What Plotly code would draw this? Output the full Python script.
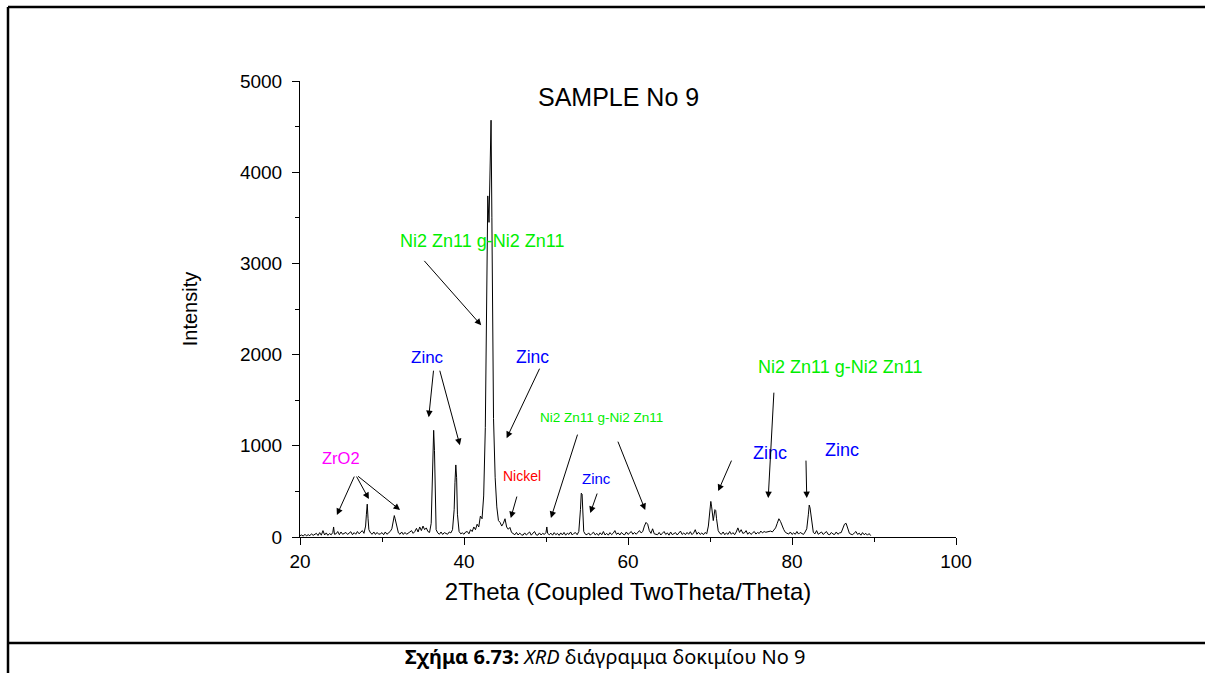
import plotly.graph_objects as go

# XRD scan of sample No 9: 2-theta (deg) and measured intensity (counts)
two_theta = [
    20.0, 20.2, 20.4, 20.6, 20.8, 21.0, 21.2, 21.4, 21.6, 21.8,
    22.0, 22.2, 22.4, 22.6, 22.8, 23.0, 23.2, 23.4, 23.6, 23.8,
    24.0, 24.1, 24.2, 24.4, 24.6, 24.8, 25.0, 25.2, 25.4, 25.6,
    25.8, 26.0, 26.2, 26.4, 26.6, 26.8, 27.0, 27.2, 27.4, 27.6,
    27.8, 28.0, 28.1, 28.2, 28.3, 28.4, 28.6, 28.8, 29.0, 29.2,
    29.4, 29.6, 29.8, 30.0, 30.2, 30.4, 30.6, 30.8, 31.0, 31.2,
    31.4, 31.5, 31.6, 31.8, 32.0, 32.2, 32.4, 32.6, 32.8, 33.0,
    33.2, 33.4, 33.6, 33.8, 34.0, 34.2, 34.4, 34.6, 34.8, 35.0,
    35.2, 35.4, 35.6, 35.8, 36.0, 36.1, 36.2, 36.3, 36.4, 36.5,
    36.6, 36.8, 37.0, 37.2, 37.4, 37.6, 37.8, 38.0, 38.2, 38.4,
    38.6, 38.8, 38.9, 39.0, 39.1, 39.2, 39.4, 39.6, 39.8, 40.0,
    40.2, 40.4, 40.6, 40.8, 41.0, 41.2, 41.4, 41.6, 41.8, 42.0,
    42.2, 42.4, 42.6, 42.75, 42.9, 43.05, 43.15, 43.3, 43.4, 43.5,
    43.6, 43.8, 44.0, 44.2, 44.4, 44.6, 44.8, 45.0, 45.2, 45.4,
    45.6, 45.8, 46.0, 46.2, 46.4, 46.6, 46.8, 47.0, 47.2, 47.4,
    47.6, 47.8, 48.0, 48.2, 48.4, 48.6, 48.8, 49.0, 49.2, 49.4,
    49.6, 49.8, 50.0, 50.1, 50.2, 50.4, 50.6, 50.8, 51.0, 51.2,
    51.4, 51.6, 51.8, 52.0, 52.2, 52.4, 52.6, 52.8, 53.0, 53.2,
    53.4, 53.6, 53.8, 54.0, 54.2, 54.3, 54.4, 54.5, 54.6, 54.8,
    55.0, 55.2, 55.4, 55.6, 55.8, 56.0, 56.2, 56.4, 56.6, 56.8,
    57.0, 57.2, 57.4, 57.6, 57.8, 58.0, 58.2, 58.4, 58.6, 58.8,
    59.0, 59.2, 59.4, 59.6, 59.8, 60.0, 60.2, 60.4, 60.6, 60.8,
    61.0, 61.2, 61.4, 61.6, 61.8, 62.0, 62.2, 62.4, 62.6, 62.8,
    63.0, 63.2, 63.4, 63.6, 63.8, 64.0, 64.2, 64.4, 64.6, 64.8,
    65.0, 65.2, 65.4, 65.6, 65.8, 66.0, 66.2, 66.4, 66.6, 66.8,
    67.0, 67.2, 67.4, 67.6, 67.8, 68.0, 68.2, 68.4, 68.6, 68.8,
    69.0, 69.2, 69.4, 69.6, 69.8, 70.0, 70.1, 70.2, 70.4, 70.6,
    70.7, 70.8, 71.0, 71.2, 71.4, 71.6, 71.8, 72.0, 72.2, 72.4,
    72.6, 72.8, 73.0, 73.2, 73.4, 73.6, 73.8, 74.0, 74.2, 74.4,
    74.6, 74.8, 75.0, 75.2, 75.4, 75.6, 75.8, 76.0, 76.2, 76.4,
    76.6, 76.8, 77.0, 77.2, 77.4, 77.6, 77.8, 78.0, 78.2, 78.4,
    78.6, 78.8, 79.0, 79.2, 79.4, 79.6, 79.8, 80.0, 80.2, 80.4,
    80.6, 80.8, 81.0, 81.2, 81.4, 81.6, 81.8, 82.0, 82.1, 82.2,
    82.4, 82.6, 82.8, 83.0, 83.2, 83.4, 83.6, 83.8, 84.0, 84.2,
    84.4, 84.6, 84.8, 85.0, 85.2, 85.4, 85.6, 85.8, 86.0, 86.2,
    86.4, 86.6, 86.8, 87.0, 87.2, 87.4, 87.6, 87.8, 88.0, 88.2,
    88.4, 88.6, 88.8, 89.0, 89.2, 89.4, 89.6,
]
intensity = [
    15, 22, 10, 30, 12, 26, 14, 35, 18, 28,
    40, 16, 48, 20, 70, 22, 45, 18, 38, 24,
    50, 110, 30, 35, 60, 25, 55, 30, 38, 50,
    28, 40, 58, 25, 48, 30, 60, 35, 52, 70,
    40, 120, 250, 360, 200, 80, 45, 30, 55, 28,
    50, 30, 35, 48, 25, 55, 30, 45, 60, 90,
    170, 235, 200, 100, 45, 30, 55, 28, 50, 30,
    38, 55, 70, 40, 60, 95, 55, 110, 70, 120,
    80, 100, 60, 50, 150, 600, 1000, 1170, 950, 350,
    80, 45, 30, 55, 28, 48, 35, 30, 55, 45,
    80, 300, 600, 790, 650, 250, 60, 35, 45, 30,
    55, 60, 35, 80, 60, 110, 80, 140, 110, 230,
    200, 450, 1200, 2400, 3740, 3450, 3900, 4570, 3500, 2300,
    1300, 650, 330, 180, 160, 120, 150, 200, 110, 85,
    105, 50, 35, 25, 50, 22, 42, 25, 20, 45,
    22, 40, 55, 20, 38, 60, 24, 20, 45, 22,
    40, 28, 50, 110, 40, 25, 42, 20, 48, 25,
    40, 18, 45, 23, 50, 20, 42, 28, 55, 22,
    40, 48, 25, 60, 300, 480, 470, 300, 60, 30,
    25, 45, 20, 38, 52, 23, 40, 18, 46, 25,
    60, 22, 40, 20, 48, 26, 42, 70, 28, 45,
    22, 50, 30, 25, 55, 28, 45, 60, 30, 50,
    30, 48, 70, 45, 60, 120, 160, 140, 70, 40,
    90, 35, 30, 25, 50, 22, 42, 60, 28, 45,
    20, 55, 26, 42, 48, 22, 40, 65, 28, 45,
    25, 50, 30, 58, 26, 44, 80, 30, 52, 28,
    45, 25, 50, 35, 120, 300, 390, 330, 180, 300,
    290, 200, 70, 40, 30, 55, 25, 45, 28, 60,
    30, 48, 25, 55, 100, 50, 80, 40, 45, 70,
    30, 52, 28, 45, 60, 32, 50, 38, 65, 45,
    60, 52, 58, 60, 65, 55, 75, 100, 150, 200,
    170, 120, 80, 50, 40, 32, 55, 28, 45, 30,
    60, 32, 50, 35, 28, 55, 90, 250, 350, 320,
    150, 50, 35, 70, 30, 48, 55, 28, 45, 60,
    30, 25, 50, 32, 28, 55, 30, 45, 48, 90,
    140, 150, 90, 40, 30, 25, 45, 60, 28, 42,
    20, 48, 25, 40, 20, 38, 15,
]

# Phase labels: text, position (2theta, counts), colour, font size
phase_labels = ["ZrO2", "Zinc", "Zinc", "Ni2 Zn11 g-Ni2 Zn11", "Nickel",
                "Ni2 Zn11 g-Ni2 Zn11", "Zinc", "Zinc", "Ni2 Zn11 g-Ni2 Zn11", "Zinc"]
label_x = [25.0, 35.5, 48.4, 42.2, 47.1, 56.8, 56.1, 77.3, 85.9, 86.1]
label_y = [865, 1971, 1971, 3241, 668, 1314, 646, 920, 1862, 953]
label_colors = ["#ff00ff", "#0000ff", "#0000ff", "#00ee00", "#ff0000",
                "#00ee00", "#0000ff", "#0000ff", "#00ee00", "#0000ff"]
label_sizes = [16.5, 17, 17.5, 18, 14, 13.5, 15, 18, 18, 18]

# Pointer arrows: tail (2theta, counts) -> head (2theta, counts)
arrow_tail_x = [26.7, 26.8, 26.9, 36.3, 37.0, 49.3, 35.0, 46.5, 53.9, 58.7, 56.3, 72.7, 77.8, 81.7]
arrow_tail_y = [679, 679, 679, 1840, 1840, 1862, 3044, 460, 1139, 1062, 493, 854, 1599, 854]
arrow_head_x = [24.5, 28.4, 32.2, 35.7, 39.5, 45.2, 42.1, 45.7, 50.6, 62.1, 55.4, 71.0, 77.1, 81.8]
arrow_head_y = [241, 416, 296, 1314, 1007, 1084, 2321, 208, 208, 296, 263, 504, 427, 427]

fig = go.Figure()
fig.add_trace(go.Scatter(
    x=two_theta, y=intensity, mode="lines",
    line=dict(color="black", width=1),
    showlegend=False, hoverinfo="skip",
))

annotations = []
for t, x, y, c, s in zip(phase_labels, label_x, label_y, label_colors, label_sizes):
    annotations.append(dict(
        x=x, y=y, xref="x", yref="y", text=t, showarrow=False,
        font=dict(family="Liberation Sans, Arial, sans-serif", size=s, color=c),
        xanchor="center", yanchor="middle",
    ))
for tx, ty, hx, hy in zip(arrow_tail_x, arrow_tail_y, arrow_head_x, arrow_head_y):
    annotations.append(dict(
        x=hx, y=hy, ax=tx, ay=ty, xref="x", yref="y", axref="x", ayref="y",
        text="", showarrow=True, arrowhead=2, arrowsize=1.3, arrowwidth=1,
        arrowcolor="black", standoff=0, startstandoff=0,
    ))

# Plot title inside the frame
annotations.append(dict(
    x=0.485, y=0.965, xref="paper", yref="paper", text="SAMPLE No 9",
    showarrow=False, xanchor="center", yanchor="middle",
    font=dict(family="Liberation Sans, Arial, sans-serif", size=25, color="black"),
))
# Figure caption below the frame
annotations.append(dict(
    x=0.465, y=-0.263, xref="paper", yref="paper",
    text="<b>Σχήμα 6.73:</b> <i>XRD</i> διάγραμμα δοκιμίου Nο 9",
    showarrow=False, xanchor="center", yanchor="middle",
    font=dict(family="Noto Sans, Open Sans, sans-serif", size=20, color="black"),
))

# Page frame: top rule, left rule and the rule above the caption
W, L, T, B, R = 1205, 300, 81, 136, 249
pw, ph = W - L - R, 673 - T - B
def px(xp):
    return (xp - L) / pw
def py(yp):
    return (673 - B - yp) / ph
frame = dict(type="line", xref="paper", yref="paper", line=dict(color="black", width=2.5))
shapes = [
    dict(frame, x0=px(8), x1=px(1205), y0=py(7), y1=py(7)),
    dict(frame, x0=px(8), x1=px(8), y0=py(7), y1=py(673)),
    dict(frame, x0=px(8), x1=px(1205), y0=py(643), y1=py(643)),
]

axis_font = dict(family="Liberation Sans, Arial, sans-serif", size=19, color="black")
fig.update_layout(
    width=W, height=673,
    margin=dict(l=L, r=R, t=T, b=B, pad=0),
    paper_bgcolor="white", plot_bgcolor="white",
    annotations=annotations, shapes=shapes,
    xaxis=dict(
        range=[20, 100], tickvals=[20, 40, 60, 80, 100],
        ticks="outside", ticklen=7, tickwidth=1, tickcolor="black",
        minor=dict(tickvals=[30, 50, 70, 90], ticks="outside", ticklen=4, tickcolor="black"),
        showline=True, linecolor="black", linewidth=1,
        showgrid=False, zeroline=False, tickfont=axis_font,
        title=dict(text="2Theta (Coupled TwoTheta/Theta)", font=dict(axis_font, size=24), standoff=12),
    ),
    yaxis=dict(
        range=[0, 5000], tickvals=[0, 1000, 2000, 3000, 4000, 5000],
        ticks="outside", ticklen=7, tickwidth=1, tickcolor="black",
        minor=dict(tickvals=[500, 1500, 2500, 3500, 4500], ticks="outside", ticklen=4, tickcolor="black"),
        showline=True, linecolor="black", linewidth=1,
        showgrid=False, zeroline=False, tickfont=axis_font,
        ticklabelstandoff=6,
        title=dict(text="Intensity", font=dict(axis_font, size=20), standoff=36),
    ),
)

fig.write_html("out.html")
